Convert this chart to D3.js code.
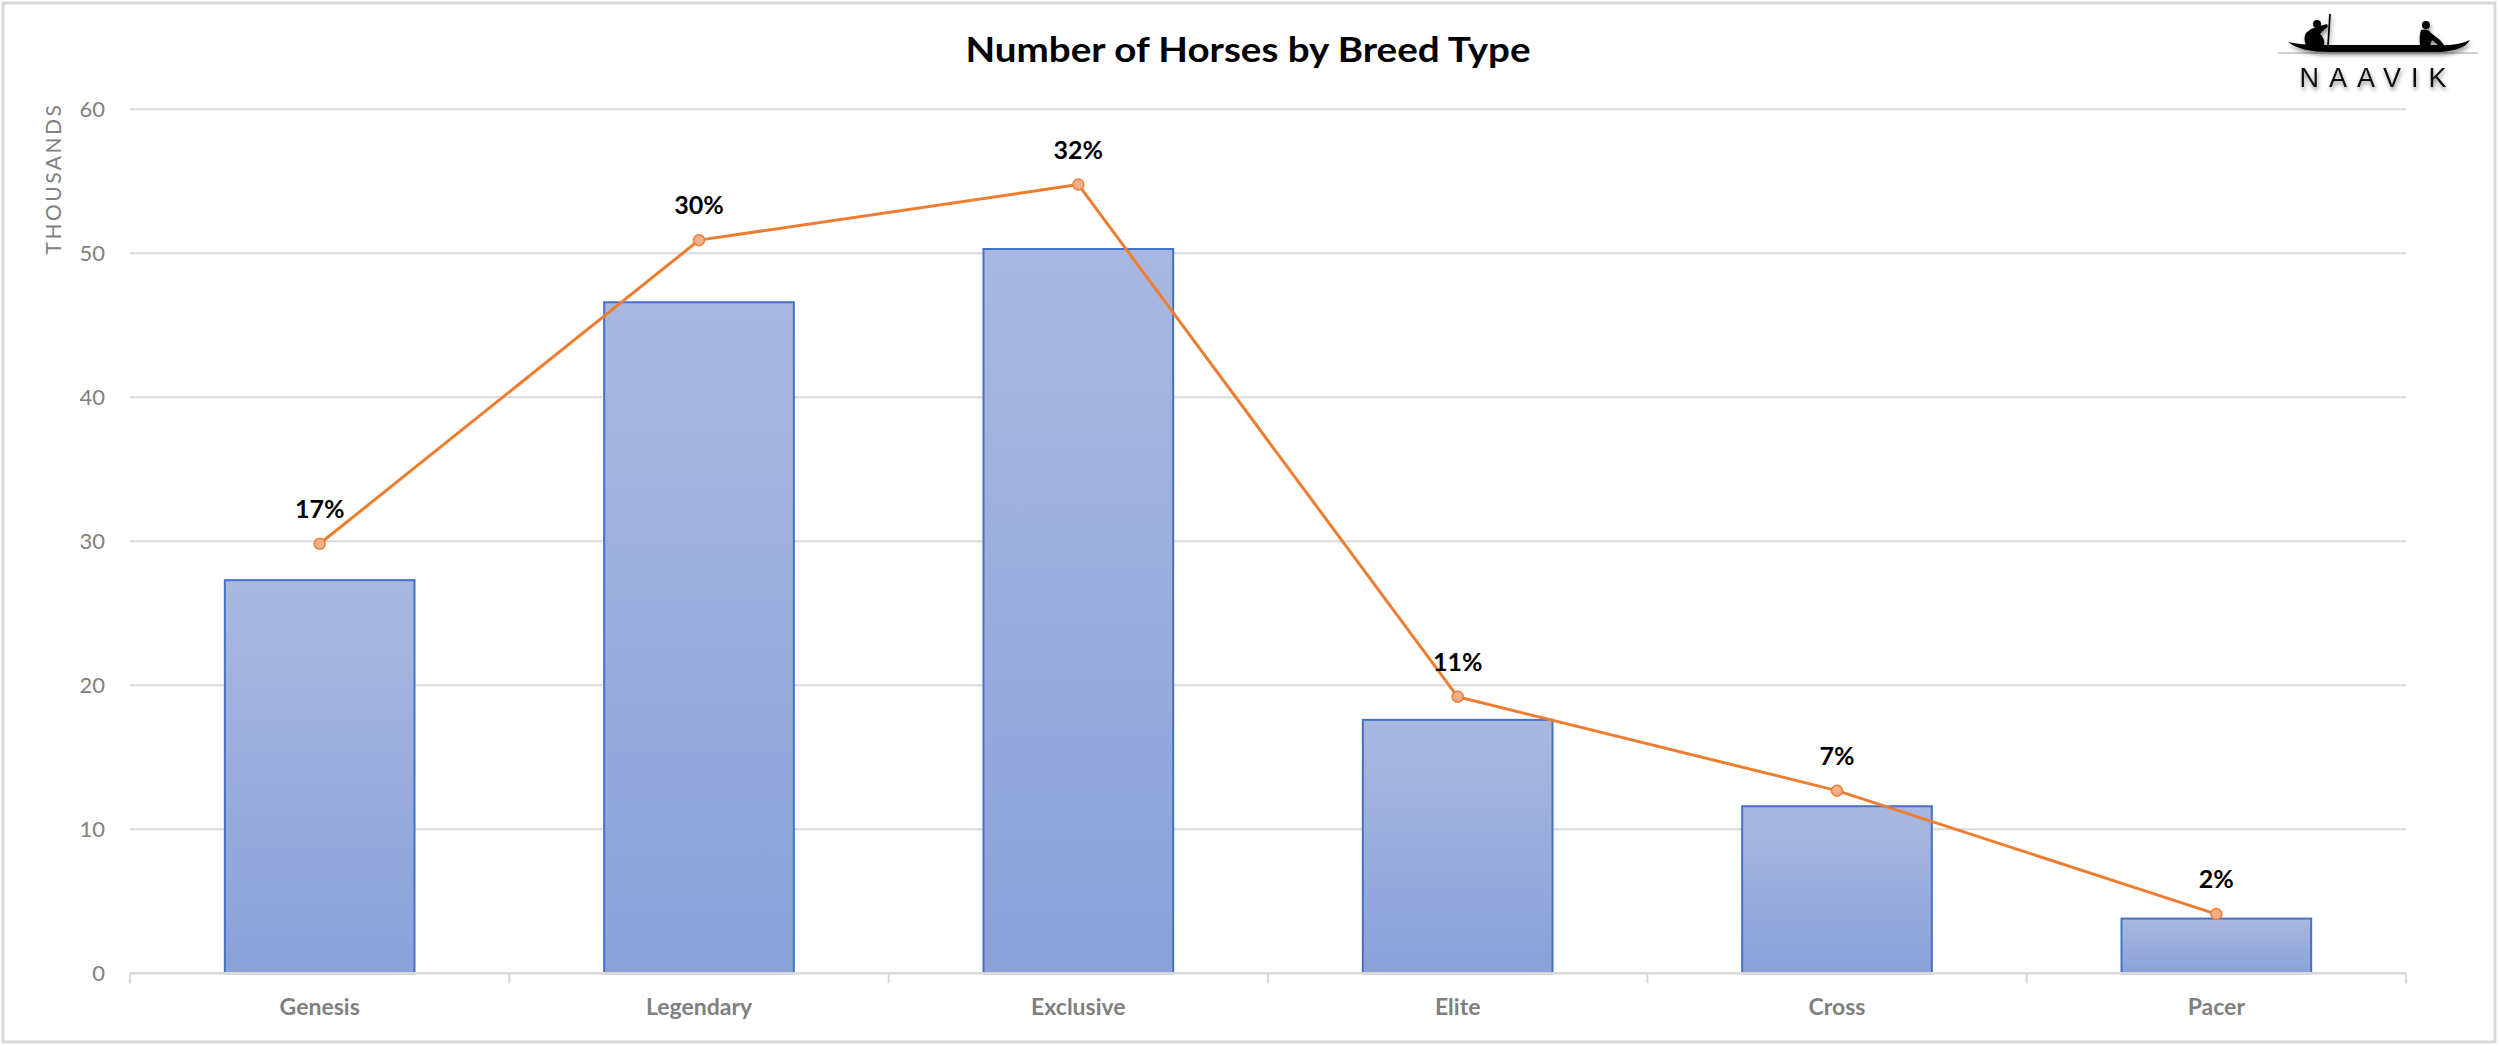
<!DOCTYPE html>
<html><head><meta charset="utf-8">
<script src="https://cdn.jsdelivr.net/npm/d3@7"></script>
<style>html,body{margin:0;padding:0;background:#fff;}svg{display:block;}</style>
</head><body>
<script>
const categories = ["Genesis","Legendary","Exclusive","Elite","Cross","Pacer"];
const horsesThousands = [27.3, 46.6, 50.3, 17.6, 11.6, 3.8];
const shareOfTotal = [0.174, 0.297, 0.3195, 0.112, 0.074, 0.024];
const shareLabels = ["17%","30%","32%","11%","7%","2%"];
const yTickValues = [0,10,20,30,40,50,60];
const titleText = "Number of Horses by Breed Type";
const yAxisTitle = "THOUSANDS";
const logoText = "NAAVIK";

(function(){
const W = 2500, H = 1046;
const pLeft = 130, pRight = 2406, pTop = 109.3, pBottom = 973.3;
const font = "Lato, 'Open Sans', sans-serif";

const svg = d3.select("body").append("svg").attr("width", W).attr("height", H);
const defs = svg.append("defs");
const grad = defs.append("linearGradient").attr("id","barGrad").attr("x1",0).attr("y1",0).attr("x2",0).attr("y2",1);
grad.append("stop").attr("offset","0%").attr("stop-color","#A9B8E0");
grad.append("stop").attr("offset","100%").attr("stop-color","#8AA1D9");
const sh = defs.append("filter").attr("id","shadow").attr("x","-20%").attr("y","-50%").attr("width","140%").attr("height","200%");
sh.append("feGaussianBlur").attr("in","SourceAlpha").attr("stdDeviation",2);
sh.append("feOffset").attr("dx",1).attr("dy",3).attr("result","b");
sh.append("feComponentTransfer").append("feFuncA").attr("type","linear").attr("slope",0.45);
const mg = sh.append("feMerge"); mg.append("feMergeNode"); mg.append("feMergeNode").attr("in","SourceGraphic");

svg.append("rect").attr("x",3).attr("y",3).attr("width",2492).attr("height",1039)
  .attr("fill","#fff").attr("stroke","#D9D9D9").attr("stroke-width",3);

const x = d3.scaleBand().domain(categories).range([pLeft, pRight]).padding(0);
const y = d3.scaleLinear().domain([0,60]).range([pBottom, pTop]);
const y2 = d3.scaleLinear().domain([0,0.35]).range([pBottom, pTop]);

svg.append("g").selectAll("line").data(yTickValues.filter(d=>d>0)).join("line")
  .attr("x1", pLeft).attr("x2", pRight).attr("y1", d=>y(d)).attr("y2", d=>y(d))
  .attr("stroke","#D9D9D9").attr("stroke-width",2);

const yAxis = d3.axisLeft(y).tickValues(yTickValues).tickSize(0).tickPadding(25);
const gy = svg.append("g").attr("transform",`translate(${pLeft},0)`).call(yAxis);
gy.select(".domain").remove();
gy.selectAll("text").attr("font-family",font).attr("font-size",22).attr("fill","#808080");

svg.append("text").attr("transform",`translate(61,${(105+252)/2}) rotate(-90)`)
  .attr("text-anchor","middle").attr("font-family",font).attr("font-size",21)
  .attr("letter-spacing",2.5).attr("fill","#808080").text(yAxisTitle);

const bw = x.bandwidth()*0.5;
svg.append("g").selectAll("rect").data(categories).join("rect")
  .attr("x", c => x(c) + (x.bandwidth()-bw)/2)
  .attr("y", (c,i) => y(horsesThousands[i]))
  .attr("width", bw)
  .attr("height", (c,i) => pBottom - y(horsesThousands[i]))
  .attr("fill","url(#barGrad)").attr("stroke","#4472C4").attr("stroke-width",2);

svg.append("line").attr("x1",pLeft).attr("x2",pRight).attr("y1",pBottom).attr("y2",pBottom)
  .attr("stroke","#D9D9D9").attr("stroke-width",2.5);
const xAxis = d3.axisBottom(x).tickSize(0).tickPadding(0);
const gx = svg.append("g").attr("transform",`translate(0,${pBottom})`).call(xAxis);
gx.select(".domain").remove();
gx.selectAll("text").attr("y",42).attr("dy",0).attr("font-family",font).attr("font-size",23)
  .attr("font-weight","bold").attr("fill","#7F7F7F");
const boundaries = categories.map(c => x(c)).concat([x(categories[categories.length-1]) + x.bandwidth()]);
svg.append("g").selectAll("line").data(boundaries).join("line")
  .attr("x1",d=>d).attr("x2",d=>d).attr("y1",pBottom).attr("y2",pBottom+10)
  .attr("stroke","#D9D9D9").attr("stroke-width",2);

const cx = c => x(c) + x.bandwidth()/2;
const line = d3.line().x((d,i)=>cx(categories[i])).y(d=>y2(d));
svg.append("path").datum(shareOfTotal).attr("d",line).attr("fill","none")
  .attr("stroke","#ED7D31").attr("stroke-width",3).attr("stroke-linejoin","round");
svg.append("g").selectAll("circle").data(shareOfTotal).join("circle")
  .attr("cx",(d,i)=>cx(categories[i])).attr("cy",d=>y2(d)).attr("r",5.5)
  .attr("fill","#F4AE8A").attr("stroke","#ED7D31").attr("stroke-width",1.5);
svg.append("g").selectAll("text").data(shareOfTotal).join("text")
  .attr("x",(d,i)=>cx(categories[i])).attr("y",d=>y2(d)-26)
  .attr("text-anchor","middle").attr("font-family",font).attr("font-size",25)
  .attr("font-weight","bold").attr("fill","#000").text((d,i)=>shareLabels[i]);

const t = svg.append("text").attr("x",1248).attr("y",62).attr("text-anchor","middle")
  .attr("font-family",font).attr("font-size",35).attr("font-weight","bold").attr("fill","#000").text(titleText);
const tl = t.node().getComputedTextLength();
if (Math.abs(tl - 565) > 8) t.attr("textLength",565).attr("lengthAdjust","spacingAndGlyphs");

const logo = svg.append("g");
logo.append("line").attr("x1",2278).attr("x2",2478).attr("y1",53).attr("y2",53)
  .attr("stroke","#999").attr("stroke-width",1.5).attr("opacity",0.6);
const lg = logo.append("g").attr("filter","url(#shadow)");
lg.append("path").attr("d","M2288,42 Q2300,52 2330,52 L2440,52 Q2465,50 2470,40 Q2458,46 2440,45 L2320,45 Q2300,45 2288,42 Z").attr("fill","#000");
lg.append("line").attr("x1",2330).attr("x2",2328).attr("y1",14).attr("y2",46).attr("stroke","#000").attr("stroke-width",1.8);
lg.append("circle").attr("cx",2317).attr("cy",24).attr("r",4).attr("fill","#000");
lg.append("path").attr("d","M2311,29 Q2320,26 2327,24 L2328,27 Q2322,31 2320,34 Q2325,38 2324,45 L2306,45 Q2303,38 2306,33 Z").attr("fill","#000");
lg.append("circle").attr("cx",2426).attr("cy",25).attr("r",4).attr("fill","#000");
lg.append("path").attr("d","M2421,30 Q2428,28 2431,33 L2440,40 L2444,45 L2438,45 L2432,40 L2430,45 L2420,45 Q2419,36 2421,30 Z").attr("fill","#000");
logo.append("text").attr("x",2378).attr("y",87).attr("text-anchor","middle")
  .attr("font-family","'Liberation Sans', Arial, sans-serif").attr("font-size",27)
  .attr("letter-spacing",10).attr("fill","#111").attr("filter","url(#shadow)").text(logoText);
})();
</script>
</body></html>
